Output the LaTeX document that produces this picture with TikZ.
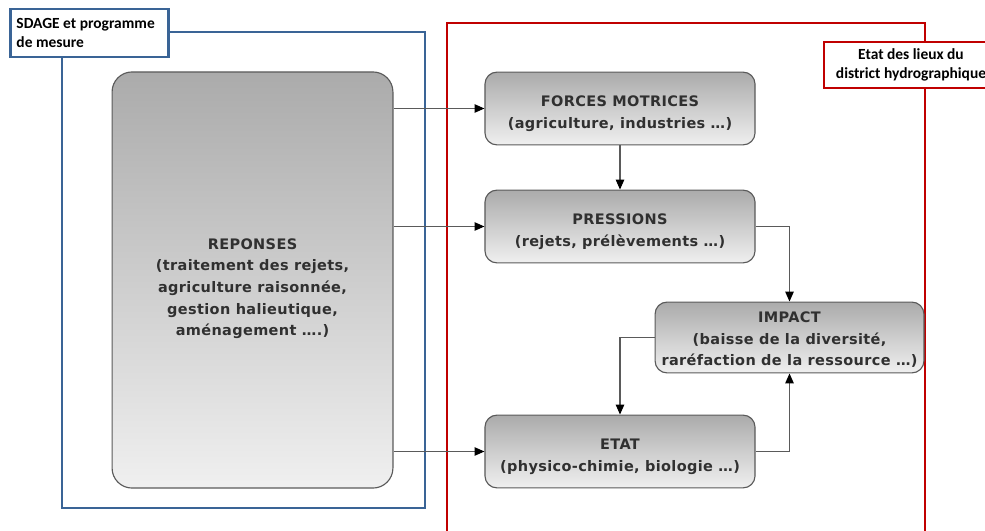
\documentclass[tikz,border=0pt]{standalone}
\usepackage{fontspec}
\setmainfont{DejaVu Sans}
\newfontfamily\boxfont[LetterSpace=2.5]{DejaVu Sans}
\newfontfamily\calfont{Carlito}
\usepackage{tikz}
\usetikzlibrary{positioning}
\usetikzlibrary{arrows.meta}

\definecolor{frameblue}{HTML}{3A6496}
\definecolor{framered}{HTML}{C00000}
\definecolor{boxline}{HTML}{5A5A5A}
\definecolor{boxtext}{HTML}{303030}

% ligne vide plus haute pour descendre un peu le texte
\newcommand{\lowstrut}[1]{\rule{0pt}{#1}}

\tikzset{
  stage node/.style={rectangle,rounded corners=0.3cm,draw=boxline,line width=0.8pt,
    top color=gray!66,bottom color=gray!12,text=boxtext,align=center,
    font=\boxfont\fontsize{10.3}{15.3}\selectfont\bfseries,inner xsep=1pt,
    minimum width=6.75cm,minimum height=1.82cm},
  title node/.style={rectangle,draw,line width=2pt,fill=white,
    font=\calfont\fontsize{11}{13}\selectfont\bfseries,inner sep=3pt},
  flow/.style={->,draw=boxline,line width=0.8pt}
}

\begin{document}
\begin{tikzpicture}[x=0.025cm,y=-0.025cm,>={Triangle[length=7pt,width=6pt]},
                    arrows={[color=black]}]
  \useasboundingbox (0,0) rectangle (985,531);

  % cadres
  \draw[frameblue,line width=2pt] (62,32) rectangle (425,508);
  \draw[framered,line width=2pt] (447,545) -- (447,23) -- (925,23) -- (925,545);

  \node[title node,draw=frameblue,align=left,inner xsep=4pt,
        minimum width=3.82cm,minimum height=1.2cm] (sdage) at (89.5,33)
        {SDAGE et programme\hspace{0.5em}\null\\de mesure};
  \node[title node,draw=framered,align=center,minimum width=4.35cm,
        minimum height=1.15cm] (lieux) at (911,65)
        {Etat des lieux du\\district hydrographique};

  % boites
  \node[stage node,rounded corners=0.5cm,minimum width=7.02cm,minimum height=10.4cm]
        (reponses) at (252.5,280)
        {\lowstrut{20pt}REPONSES\\(traitement des rejets,\\agriculture raisonnée,\\gestion halieutique,\\aménagement ….)};
  \node[stage node] (forces) at (620,108.5)
        {\lowstrut{15pt}FORCES MOTRICES\\(agriculture, industries …)};
  \node[stage node] (pressions) at (620,226.5)
        {\lowstrut{15pt}PRESSIONS\\(rejets, prélèvements …)};
  \node[stage node,minimum width=6.72cm,minimum height=1.77cm] (impact) at (789.5,337.5)
        {\lowstrut{11pt}IMPACT\\(baisse de la diversité,\\raréfaction de la ressource …)};
  \node[stage node] (etat) at (620,451.5)
        {\lowstrut{15pt}ETAT\\(physico-chimie, biologie …)};

  % liaisons
  \draw[flow] (forces.west -| reponses.east) -- (forces.west);
  \draw[flow] (pressions.west -| reponses.east) -- (pressions.west);
  \draw[flow] (etat.west -| reponses.east) -- (etat.west);
  \draw[flow] (forces) -- (pressions);
  \draw[flow] (pressions.east) -| (impact.north);
  \draw[flow] (impact.west) -| (etat.north);
  \draw[flow] (etat.east) -| (impact.south);
\end{tikzpicture}
\end{document}
